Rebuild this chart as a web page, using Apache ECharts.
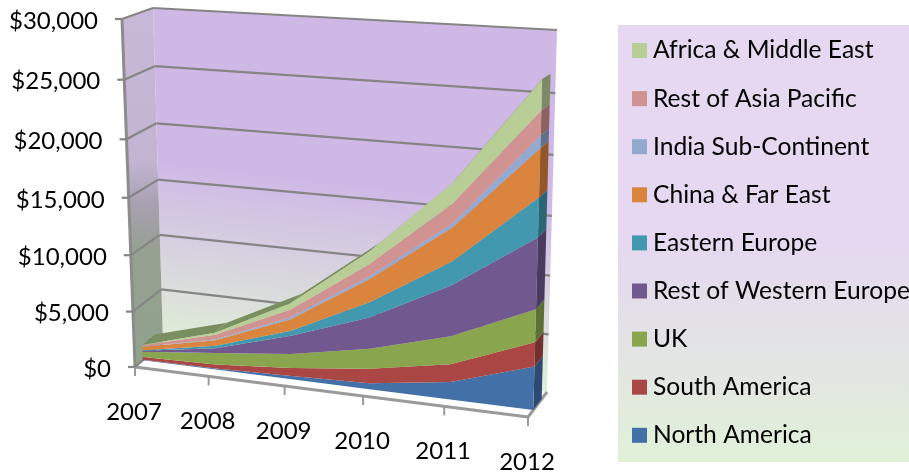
<!DOCTYPE html>
<html>
<head>
<meta charset="utf-8">
<style>html,body{margin:0;padding:0;background:#fff}#chart{width:909px;height:475px}</style>
<script src="https://cdn.jsdelivr.net/npm/echarts@6/dist/echarts.min.js"></script>
</head>
<body>
<div id="chart"></div>
<script>
// Regional revenue, stacked from the bottom up
const years = ['2007', '2008', '2009', '2010', '2011', '2012'];
const yTicks = [0, 5000, 10000, 15000, 20000, 25000, 30000];
const yTickLabels = ['$0', '$5,000', '$10,000', '$15,000', '$20,000', '$25,000', '$30,000'];

const northAmerica = [60, 110, 290, 510, 1500, 3700];
const southAmerica = [240, 350, 720, 1270, 1540, 2030];
const uk = [490, 1040, 1225, 1750, 2390, 2750];
const restOfWesternEurope = [80, 430, 1630, 2700, 4300, 5870];
const easternEurope = [40, 220, 430, 1320, 1980, 3210];
const chinaFarEast = [340, 500, 1000, 1970, 2800, 3910];
const indiaSubContinent = [20, 60, 195, 230, 320, 1000];
const restOfAsiaPacific = [100, 430, 660, 1050, 1650, 1950];
const africaMiddleEast = [40, 170, 545, 1060, 1700, 2410];

const regionNames = ['North America', 'South America', 'UK', 'Rest of Western Europe', 'Eastern Europe',
  'China & Far East', 'India Sub-Continent', 'Rest of Asia Pacific', 'Africa & Middle East'];
const regionValues = [northAmerica, southAmerica, uk, restOfWesternEurope, easternEurope,
  chinaFarEast, indiaSubContinent, restOfAsiaPacific, africaMiddleEast];
const regionColors = ['#4470a8', '#aa4643', '#89a54e', '#71588f', '#4198af',
  '#db843d', '#93a9cf', '#d19392', '#b9cd96'];
const regionSideColors = ['#2c4a72', '#72302e', '#5c6f35', '#4a3a5f', '#2b6675',
  '#925829', '#62718b', '#8c6362', '#7c8a65'];
const roofColor = '#7a8f60';

const FONT = '24px Lato, "Noto Sans", sans-serif';
const GRID_LINE = '#858585';

// Perspective box: the front and back planes of the plot as image quads (bottom-left, bottom-right, top-right, top-left)
const frontPlane = [[135, 367], [528, 417], [538, 41], [122, 19]];
const backPlane = [[163, 343], [547, 392], [557, 30], [153, 8]];
const slabFront = 0.28, slabBack = 0.72;

function unitSquareHomography(q) {
  const [[x0, y0], [x1, y1], [x2, y2], [x3, y3]] = q;
  const dx1 = x1 - x2, dx2 = x3 - x2, sx = x0 - x1 + x2 - x3;
  const dy1 = y1 - y2, dy2 = y3 - y2, sy = y0 - y1 + y2 - y3;
  const det = dx1 * dy2 - dx2 * dy1;
  const g = (sx * dy2 - dx2 * sy) / det;
  const h = (dx1 * sy - sx * dy1) / det;
  return (u, v) => {
    const w = g * u + h * v + 1;
    return [
      ((x1 - x0 + g * x1) * u + (x3 - x0 + h * x3) * v + x0) / w,
      ((y1 - y0 + g * y1) * u + (y3 - y0 + h * y3) * v + y0) / w
    ];
  };
}
const onFront = unitSquareHomography(frontPlane);
const onBack = unitSquareHomography(backPlane);

// Turns a point of the flat cartesian grid into its place in the box at the given depth
function project(api, params, category, value, depth) {
  const p = api.coord([category, value]);
  const r = params.coordSys;
  const u = (p[0] - r.x) / r.width;
  const v = 1 - (p[1] - r.y) / r.height;
  const a = onFront(u, v), b = onBack(u, v);
  return [a[0] + (b[0] - a[0]) * depth, a[1] + (b[1] - a[1]) * depth];
}

function segment(a, b, stroke, width) {
  return { type: 'line', shape: { x1: a[0], y1: a[1], x2: b[0], y2: b[1] },
    style: { stroke: stroke || GRID_LINE, lineWidth: width || 2.2 } };
}

const lastCategory = years.length - 1;

function renderWalls(params, api) {
  const tick = yTicks[params.dataIndex];
  const top = yTicks[yTicks.length - 1];
  const children = [];
  const at = (c, v, d) => project(api, params, c, v, d);
  if (params.dataIndex === 0) {
    children.push({
      type: 'polygon',
      shape: { points: [at(0, 0, 1), at(lastCategory, 0, 1), at(lastCategory, top, 1), at(0, top, 1)] },
      style: { fill: new echarts.graphic.LinearGradient(382, 20, 340, 372, [
        { offset: 0, color: '#cfb8e6' }, { offset: 0.47, color: '#cfb8e6' }, { offset: 1, color: '#e0f1d6' }
      ], true) }
    });
    children.push({
      type: 'polygon',
      shape: { points: [at(0, 0, 0), at(0, 0, 1), at(0, top, 1), at(0, top, 0)] },
      style: { fill: new echarts.graphic.LinearGradient(0, 15, 0, 360, [
        { offset: 0, color: '#c6b8d6' }, { offset: 0.42, color: '#c3b5d2' },
        { offset: 0.55, color: '#a8a0b0' }, { offset: 0.68, color: '#96a092' }, { offset: 1, color: '#90a28c' }
      ], true) }
    });
    // Floor edges and the leading vertical axis
    children.push(segment(at(0, 0, 0), at(lastCategory, 0, 0), '#9a9a9a', 3));
    children.push(segment(at(lastCategory, 0, 0), at(lastCategory, 0, 1), '#9a9a9a', 3));
    children.push(segment(at(0, 0, 0), at(0, 0, 1), '#9a9a9a', 2));
    children.push(segment(at(0, 0, 0), at(0, top, 0), '#8c8c8c', 3));
  }
  const front = at(0, tick, 0);
  children.push(segment(at(0, tick, 1), front));
  if (tick > 0) children.push(segment(at(0, tick, 1), at(lastCategory, tick, 1)));
  children.push(segment([front[0] - 7, front[1]], front));
  children.push({
    type: 'text',
    style: { text: yTickLabels[params.dataIndex], x: front[0] - 24, y: front[1] + 2,
      align: 'right', verticalAlign: 'middle', font: FONT, fill: '#000' }
  });
  return { type: 'group', children };
}

function renderYears(params, api) {
  const p = project(api, params, params.dataIndex, 0, 0);
  return { type: 'group', children: [
    segment(p, [p[0], p[1] + 9], '#9a9a9a', 2),
    { type: 'text', style: { text: years[params.dataIndex], x: p[0] - 1, y: p[1] + 45,
      align: 'center', verticalAlign: 'middle', font: FONT, fill: '#000' } }
  ] };
}

// One slab per region: roof of the top band, end face at the last year, then the front face
function makeRegionRenderer(index) {
  return function (params, api) {
    if (params.dataIndex !== 0) return null;
    const lower = years.map((_, i) => regionValues.slice(0, index).reduce((s, a) => s + a[i], 0));
    const upper = years.map((_, i) => lower[i] + regionValues[index][i]);
    const at = (c, v, d) => project(api, params, c, v, d);
    const children = [];
    if (index === regionValues.length - 1) {
      for (let i = 0; i < lastCategory; i++) {
        children.push({
          type: 'polygon',
          shape: { points: [at(i, upper[i], slabFront), at(i + 1, upper[i + 1], slabFront),
            at(i + 1, upper[i + 1], slabBack), at(i, upper[i], slabBack)] },
          style: { fill: roofColor }
        });
      }
    }
    children.push({
      type: 'polygon',
      shape: { points: [at(lastCategory, lower[lastCategory], slabFront), at(lastCategory, upper[lastCategory], slabFront),
        at(lastCategory, upper[lastCategory], slabBack), at(lastCategory, lower[lastCategory], slabBack)] },
      style: { fill: regionSideColors[index] }
    });
    const frontEdge = upper.map((v, i) => at(i, v, slabFront));
    const backEdge = lower.map((v, i) => at(i, v, slabFront)).reverse();
    children.push({
      type: 'polygon',
      shape: { points: frontEdge.concat(backEdge) },
      style: { fill: regionColors[index] }
    });
    return { type: 'group', children };
  };
}

const regionSeries = regionNames.map((name, i) => ({
  type: 'custom',
  name,
  coordinateSystem: 'cartesian2d',
  clip: false,
  z: 3,
  itemStyle: { color: regionColors[i] },
  data: regionValues[i],
  renderItem: makeRegionRenderer(i)
}));

const chart = echarts.init(document.getElementById('chart'));
chart.setOption({
  animation: false,
  backgroundColor: '#fff',
  grid: { left: 135, top: 19, width: 393, height: 348 },
  xAxis: { type: 'category', data: years, boundaryGap: false, show: false },
  yAxis: { type: 'value', min: 0, max: 30000, interval: 5000, show: false },
  graphic: [{
    type: 'rect',
    z: 0,
    shape: { x: 618, y: 25, width: 291, height: 437 },
    style: { fill: new echarts.graphic.LinearGradient(0, 0, 0, 1, [
      { offset: 0, color: '#e5d8f0' }, { offset: 0.5, color: '#e5d8f0' }, { offset: 1, color: '#e0f1d8' }
    ]) }
  }],
  legend: {
    orient: 'vertical',
    left: 632,
    top: 38,
    padding: 0,
    itemWidth: 15,
    itemHeight: 15,
    itemGap: 23.1,
    icon: 'rect',
    z: 5,
    selectedMode: false,
    data: regionNames.slice().reverse(),
    textStyle: { fontFamily: 'Lato, "Noto Sans", sans-serif', fontSize: 24.6, color: '#000', padding: [0, 0, 0, 1], lineHeight: 24 }
  },
  series: [
    { type: 'custom', name: 'walls', coordinateSystem: 'cartesian2d', clip: false, z: 1,
      data: yTicks.map((t, i) => [i, t]), encode: { x: 0, y: 1 }, renderItem: renderWalls },
    { type: 'custom', name: 'years', coordinateSystem: 'cartesian2d', clip: false, z: 1,
      data: years.map((_, i) => [i, 0]), encode: { x: 0, y: 1 }, renderItem: renderYears }
  ].concat(regionSeries)
});
</script>
</body>
</html>
